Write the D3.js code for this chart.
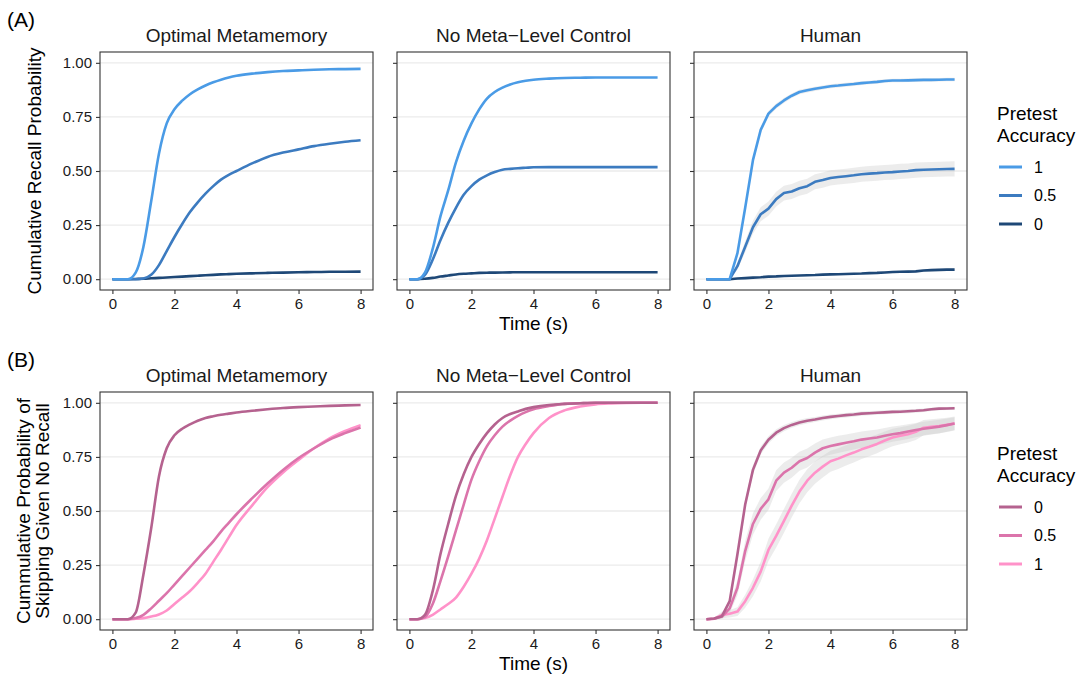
<!DOCTYPE html>
<html><head><meta charset="utf-8">
<script src="https://cdn.jsdelivr.net/npm/d3@7"></script>
<style>
html,body{margin:0;padding:0;background:#fff;}
svg text{font-family:"Liberation Sans",Arial,sans-serif;}
</style></head>
<body><svg id="c" width="1079" height="677"></svg>
<script>
// ---------- DATA ----------
const panelTitles = ["Optimal Metamemory", "No Meta\u2212Level Control", "Human"];
const xTicks = [0, 2, 4, 6, 8];
const yTicks = [0, 0.25, 0.5, 0.75, 1];
const yTickLabels = ["0.00", "0.25", "0.50", "0.75", "1.00"];
const legendTitle = ["Pretest", "Accuracy"];
const levelsA = ["1", "0.5", "0"];
const levelsB = ["0", "0.5", "1"];
const colorsA = ["#4A9BE6", "#3C7BC0", "#1E4877"];
const colorsB = ["#B5628F", "#DB74AB", "#FF92C9"];

const timeModel = [0,0.25,0.5,0.75,1,1.25,1.5,1.75,2,2.25,2.5,2.75,3,3.25,3.5,3.75,4,4.5,5,5.5,6,6.5,7,7.5,8];
const timeHuman = [0,0.25,0.5,0.75,1,1.25,1.5,1.75,2,2.25,2.5,2.75,3,3.25,3.5,3.75,4,4.25,4.5,4.75,5,5.25,5.5,5.75,6,6.25,6.5,6.75,7,7.25,7.5,7.75,8];

// (A) Cumulative recall probability
const optA_1  = [0,0,0,0.03,0.15,0.36,0.58,0.72,0.785,0.825,0.855,0.877,0.895,0.91,0.922,0.932,0.94,0.95,0.957,0.962,0.965,0.968,0.97,0.971,0.972];
const optA_05 = [0,0,0,0,0.003,0.02,0.065,0.13,0.195,0.255,0.31,0.355,0.395,0.43,0.46,0.482,0.5,0.535,0.565,0.585,0.6,0.615,0.626,0.635,0.642];
const optA_0  = [0,0,0,0.001,0.002,0.004,0.006,0.008,0.01,0.012,0.014,0.016,0.018,0.02,0.022,0.0235,0.025,0.027,0.029,0.0305,0.032,0.033,0.034,0.0345,0.035];
const nmA_1   = [0,0,0.03,0.14,0.29,0.41,0.54,0.64,0.72,0.785,0.835,0.865,0.885,0.9,0.91,0.917,0.922,0.927,0.93,0.931,0.932,0.932,0.932,0.932,0.932];
const nmA_05  = [0,0,0.02,0.09,0.18,0.26,0.33,0.39,0.43,0.46,0.48,0.495,0.506,0.51,0.513,0.515,0.517,0.518,0.518,0.518,0.518,0.518,0.518,0.518,0.518];
const nmA_0   = [0,0,0.002,0.006,0.012,0.017,0.022,0.025,0.027,0.029,0.03,0.0305,0.031,0.0315,0.032,0.032,0.032,0.032,0.032,0.032,0.032,0.032,0.032,0.032,0.032];
const humA_1  = [0,0,0,0,0.12,0.33,0.55,0.69,0.765,0.8,0.826,0.848,0.865,0.873,0.88,0.886,0.892,0.895,0.899,0.902,0.906,0.909,0.912,0.916,0.918,0.918,0.919,0.92,0.921,0.921,0.922,0.923,0.923];
const humA_05 = [0,0,0,0,0.06,0.15,0.24,0.30,0.326,0.37,0.398,0.405,0.42,0.43,0.45,0.458,0.468,0.472,0.476,0.48,0.485,0.488,0.49,0.493,0.495,0.498,0.5,0.504,0.506,0.507,0.508,0.509,0.51];
const humA_0  = [0,0,0,0,0.003,0.005,0.007,0.009,0.012,0.013,0.015,0.016,0.017,0.018,0.019,0.021,0.022,0.023,0.024,0.025,0.026,0.028,0.029,0.031,0.033,0.034,0.035,0.036,0.04,0.042,0.043,0.044,0.044];
const bandA = [0.03, 0.07, 0.03];

// (B) Cumulative probability of skipping given no recall
const optB_0  = [0,0,0,0.03,0.207,0.42,0.66,0.79,0.85,0.88,0.9,0.917,0.93,0.938,0.945,0.95,0.955,0.963,0.97,0.976,0.98,0.983,0.986,0.988,0.99];
const optB_05 = [0,0,0,0.005,0.02,0.05,0.085,0.12,0.16,0.2,0.24,0.28,0.32,0.36,0.405,0.445,0.485,0.558,0.627,0.69,0.745,0.79,0.83,0.86,0.886];
const optB_1  = [0,0,0,0.002,0.005,0.012,0.022,0.04,0.07,0.1,0.13,0.168,0.21,0.265,0.32,0.378,0.435,0.525,0.61,0.678,0.736,0.79,0.836,0.87,0.897];
const nmB_0   = [0,0,0.02,0.13,0.30,0.44,0.57,0.67,0.75,0.81,0.86,0.9,0.93,0.948,0.96,0.972,0.98,0.99,0.995,0.998,1,1,1,1,1];
const nmB_05  = [0,0,0.01,0.07,0.176,0.29,0.41,0.53,0.645,0.73,0.8,0.85,0.89,0.918,0.94,0.957,0.97,0.985,0.995,0.998,1,1,1,1,1];
const nmB_1   = [0,0,0.005,0.02,0.045,0.07,0.1,0.15,0.21,0.28,0.365,0.465,0.566,0.665,0.75,0.81,0.86,0.93,0.965,0.983,0.993,0.997,0.999,1,1];
const humB_0  = [0,0.003,0.014,0.083,0.3,0.53,0.69,0.78,0.829,0.862,0.883,0.898,0.909,0.917,0.923,0.93,0.935,0.939,0.943,0.946,0.95,0.952,0.954,0.956,0.958,0.959,0.961,0.963,0.966,0.97,0.973,0.974,0.975];
const humB_05 = [0,0.002,0.012,0.05,0.145,0.315,0.44,0.51,0.554,0.64,0.677,0.7,0.73,0.745,0.77,0.79,0.8,0.808,0.815,0.822,0.83,0.835,0.84,0.848,0.855,0.86,0.867,0.874,0.88,0.885,0.89,0.897,0.904];
const humB_1  = [0,0.002,0.02,0.025,0.035,0.083,0.145,0.22,0.32,0.385,0.454,0.525,0.59,0.64,0.677,0.705,0.73,0.742,0.757,0.77,0.785,0.797,0.81,0.826,0.84,0.848,0.855,0.866,0.885,0.889,0.893,0.898,0.904];
const bandB = [0.045, 0.1, 0.11];

// ---------- LAYOUT ----------
const svg = d3.select("#c");
const panelLeft = [100, 397, 694];
const panelW = 273;
const rows = [
  {top: 52, bottom: 290, tag: "(A)", tagY: 27, colors: colorsA, levels: levelsA,
   model: [[optA_1, optA_05, optA_0], [nmA_1, nmA_05, nmA_0]], human: [humA_1, humA_05, humA_0], band: bandA,
   ytitle: ["Cumulative Recall Probability"], legendY: 120},
  {top: 392, bottom: 630, tag: "(B)", tagY: 367, colors: colorsB, levels: levelsB,
   model: [[optB_0, optB_05, optB_1], [nmB_0, nmB_05, nmB_1]], human: [humB_0, humB_05, humB_1], band: bandB,
   ytitle: ["Cummulative Probability of", "Skipping Given No Recall"], legendY: 460}
];

rows.forEach((row, ri) => {
  const y = d3.scaleLinear().domain([-0.05, 1.05]).range([row.bottom, row.top]);
  svg.append("text").attr("x", 7).attr("y", row.tagY).attr("font-size", 21).attr("fill", "#000").text(row.tag);

  panelLeft.forEach((pl, pi) => {
    const x = d3.scaleLinear().domain([-0.4, 8.4]).range([pl, pl + panelW]);
    const g = svg.append("g");
    // grid
    g.selectAll("line.grid").data(yTicks).join("line")
      .attr("x1", pl).attr("x2", pl + panelW)
      .attr("y1", d => y(d)).attr("y2", d => y(d))
      .attr("stroke", "#ebebeb").attr("stroke-width", 1.3);
    // series
    if (pi < 2) {
      const series = row.model[pi];
      const line = d3.line().x((d, i) => x(timeModel[i])).y(d => y(d)).curve(d3.curveMonotoneX);
      series.slice().reverse().forEach((s, k) => {
        const si = series.length - 1 - k;
        g.append("path").attr("d", line(s)).attr("fill", "none")
          .attr("stroke", row.colors[si]).attr("stroke-width", 2.6);
      });
    } else {
      const series = row.human;
      const area = d3.area().x((d, i) => x(timeHuman[i]))
        .y0((d, i) => y(d.v - d.b)).y1(d => y(d.v + d.b));
      series.forEach((s, si) => {
        const dat = s.map(v => ({v, b: row.band[si] * Math.sqrt(v * (1 - v))}));
        g.append("path").attr("d", area(dat)).attr("fill", "#c8c8c8").attr("fill-opacity", 0.35);
      });
      const line = d3.line().x((d, i) => x(timeHuman[i])).y(d => y(d));
      series.slice().reverse().forEach((s, k) => {
        const si = series.length - 1 - k;
        g.append("path").attr("d", line(s)).attr("fill", "none")
          .attr("stroke", row.colors[si]).attr("stroke-width", 2.6).attr("stroke-linejoin", "round");
      });
    }
    // frame
    g.append("rect").attr("x", pl).attr("y", row.top).attr("width", panelW).attr("height", row.bottom - row.top)
      .attr("fill", "none").attr("stroke", "#333").attr("stroke-width", 1.1);
    // x axis
    const xa = svg.append("g").attr("transform", `translate(0,${row.bottom})`)
      .call(d3.axisBottom(x).tickValues(xTicks).tickSize(4).tickPadding(4).tickFormat(d3.format("d")));
    xa.select(".domain").remove();
    xa.selectAll("line").attr("stroke", "#333").attr("stroke-width", 1.1);
    xa.selectAll("text").attr("font-size", 15).attr("fill", "#1a1a1a").attr("font-family", "Liberation Sans, Arial, sans-serif");
    // y axis
    const ya = svg.append("g").attr("transform", `translate(${pl},0)`)
      .call(d3.axisLeft(y).tickValues(yTicks).tickSize(4).tickPadding(4)
        .tickFormat((d, i) => pi === 0 ? yTickLabels[i] : ""));
    ya.select(".domain").remove();
    ya.selectAll("line").attr("stroke", "#333").attr("stroke-width", 1.1);
    ya.selectAll("text").attr("font-size", 15).attr("fill", "#1a1a1a").attr("font-family", "Liberation Sans, Arial, sans-serif");
    // strip title
    svg.append("text").attr("x", pl + panelW / 2).attr("y", row.top - 10).attr("text-anchor", "middle")
      .attr("font-size", 19).attr("fill", "#1a1a1a").text(panelTitles[pi]);
  });

  // x axis title
  svg.append("text").attr("x", panelLeft[1] + panelW / 2).attr("y", row.bottom + 40)
    .attr("text-anchor", "middle").attr("font-size", 19).attr("fill", "#000").text("Time (s)");
  // y axis title
  const cy = (row.top + row.bottom) / 2;
  const n = row.ytitle.length;
  row.ytitle.forEach((t, i) => {
    const bx = n === 1 ? 41 : [30, 49][i];
    svg.append("text").attr("transform", `translate(${bx},${cy}) rotate(-90)`)
      .attr("text-anchor", "middle").attr("font-size", 19).attr("fill", "#000").text(t);
  });
  // legend
  const lx = 997;
  legendTitle.forEach((t, i) => {
    svg.append("text").attr("x", lx).attr("y", row.legendY + i * 22).attr("font-size", 19).attr("fill", "#000").text(t);
  });
  row.levels.forEach((lv, i) => {
    const ky = row.legendY + 47 + i * 28.5;
    svg.append("line").attr("x1", lx + 2).attr("x2", lx + 25).attr("y1", ky).attr("y2", ky)
      .attr("stroke", row.colors[i]).attr("stroke-width", 3);
    svg.append("text").attr("x", lx + 37).attr("y", ky + 5.5).attr("font-size", 16).attr("fill", "#000").text(lv);
  });
});
</script></body></html>
